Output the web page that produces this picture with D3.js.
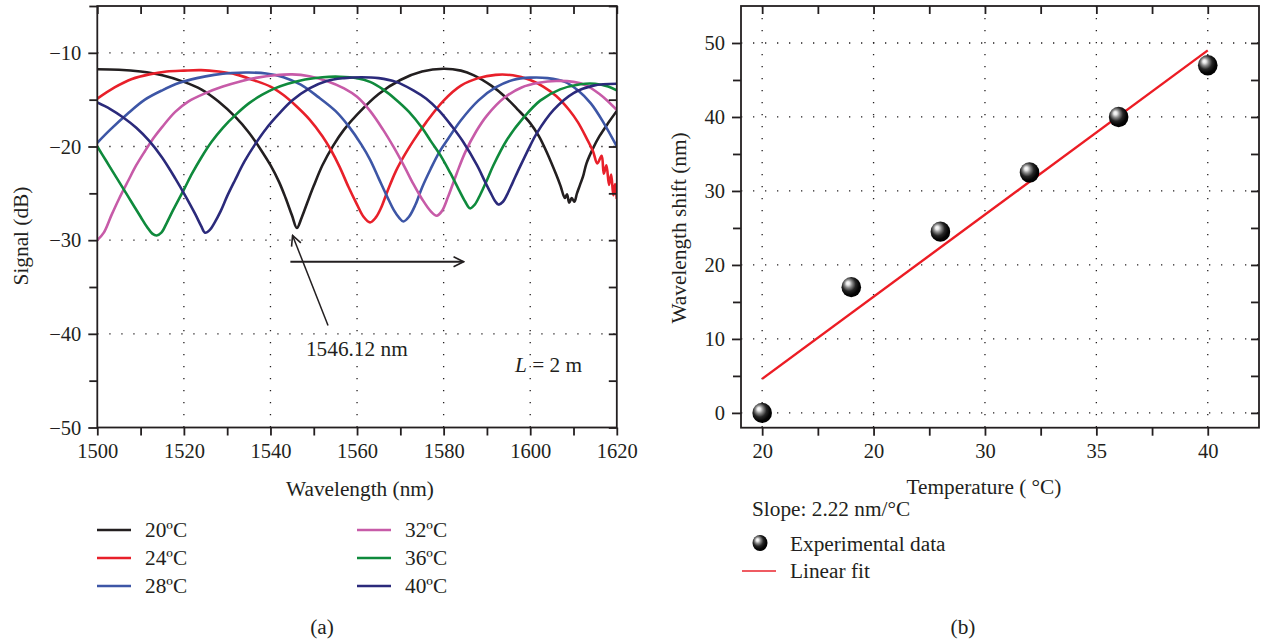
<!DOCTYPE html>
<html><head><meta charset="utf-8">
<script src="https://cdn.jsdelivr.net/npm/d3@7"></script>
<style>
body{margin:0;background:#fff}
svg text{font-family:"Liberation Serif","Times New Roman",serif;fill:#231f20}
</style>
</head><body>
<svg id="c" width="1262" height="642"></svg>
<script>
// ---------------- DATA: panel (a) ----------------
const temperatures = ["20ºC","24ºC","28ºC","32ºC","36ºC","40ºC"];
const seriesColors = ["#231f20","#e8202a","#3d56a6","#c75ba8","#0f8a3c","#2b2a7b"];
const spec20 = [[1500,-11.75],[1505,-11.8],[1510,-12.0],[1515,-12.4],[1520,-13.1],[1524,-13.9],[1528,-15.2],[1532,-16.9],[1535,-18.5],[1538,-20.5],[1540,-22.0],[1542,-23.8],[1543.5,-25.5],[1545,-27.4],[1546.1,-28.7],[1547.2,-27.6],[1548.5,-26.0],[1550,-24.2],[1552,-22.0],[1554.5,-19.9],[1557,-18.2],[1560,-16.6],[1565,-14.4],[1570,-12.9],[1575,-12.0],[1580,-11.7],[1584,-11.9],[1587,-12.4],[1591,-13.5],[1594,-14.6],[1597,-16.0],[1600,-17.5],[1602,-18.9],[1604,-20.8],[1606,-23.0],[1607,-24.2],[1608,-25.5],[1608.5,-25.1],[1609,-26.0],[1609.6,-25.5],[1610.2,-25.9],[1610.8,-25.0],[1611.5,-24.1],[1612.2,-23.2],[1613,-21.8],[1614.5,-20.2],[1616,-18.9],[1618,-17.5],[1620,-16.2]];
const spec24 = [[1500,-14.9],[1504,-13.7],[1508,-12.8],[1512,-12.3],[1516,-12.0],[1520,-11.9],[1524,-11.85],[1528,-12.0],[1532,-12.3],[1536,-12.9],[1540,-13.6],[1543,-14.5],[1546,-15.7],[1549,-17.1],[1552,-18.9],[1554,-20.4],[1556,-22.2],[1558,-24.3],[1560,-26.2],[1561.5,-27.5],[1563,-28.1],[1564.3,-27.6],[1565.5,-26.6],[1567,-24.8],[1569,-22.6],[1571,-20.9],[1573,-19.4],[1576,-17.4],[1580,-15.1],[1584,-13.5],[1588,-12.7],[1592,-12.35],[1596,-12.4],[1600,-12.9],[1603,-13.6],[1606,-14.6],[1609,-16.1],[1611,-17.4],[1613,-19.1],[1614.5,-20.5],[1615.5,-21.8],[1616.5,-21.0],[1617,-22.9],[1617.6,-22.0],[1618.2,-24.1],[1618.7,-23.0],[1619.2,-25.2],[1619.6,-24.0],[1620,-25.6]];
const spec28 = [[1500,-19.6],[1503,-18.2],[1507,-16.5],[1511,-15.0],[1515,-14.0],[1519,-13.2],[1523,-12.7],[1527,-12.35],[1531,-12.15],[1535,-12.1],[1539,-12.2],[1543,-12.6],[1547,-13.4],[1551,-14.7],[1555,-16.2],[1558,-17.8],[1561,-19.8],[1563,-21.4],[1565,-23.4],[1567,-25.4],[1568.5,-26.8],[1569.7,-27.6],[1570.7,-28.0],[1572,-27.5],[1573.5,-26.2],[1575,-24.4],[1577,-22.4],[1579,-20.6],[1581,-19.2],[1584,-17.2],[1588,-15.1],[1592,-13.7],[1596,-12.9],[1600,-12.65],[1604,-12.7],[1608,-13.1],[1611,-14.0],[1614,-15.4],[1617,-17.5],[1620,-20.0]];
const spec32 = [[1500,-30.0],[1501.5,-29.2],[1503.3,-27.3],[1505,-25.6],[1507.2,-23.6],[1509,-22.0],[1511,-20.5],[1513,-19.1],[1515,-17.9],[1518,-16.3],[1521,-15.2],[1525,-14.3],[1529,-13.6],[1533,-13.05],[1537,-12.65],[1541,-12.4],[1545,-12.3],[1549,-12.5],[1553,-13.0],[1557,-13.8],[1560,-14.7],[1563,-16.2],[1566,-18.2],[1568.5,-20.1],[1571,-22.2],[1573,-24.0],[1575,-25.6],[1577,-26.9],[1578.4,-27.4],[1579.6,-26.9],[1581,-25.4],[1583,-22.9],[1585,-20.6],[1587.5,-18.4],[1590,-16.7],[1594,-14.8],[1598,-13.7],[1602,-13.2],[1606,-13.0],[1610,-13.1],[1613,-13.5],[1616,-14.4],[1618,-15.2],[1620,-16.1]];
const spec36 = [[1500,-20.0],[1502,-21.5],[1504,-23.0],[1506,-24.5],[1508,-26.0],[1510,-27.5],[1511.5,-28.6],[1512.7,-29.3],[1513.7,-29.5],[1514.8,-29.2],[1516,-28.2],[1517.5,-26.8],[1520,-24.6],[1522,-22.8],[1524,-21.2],[1526.4,-19.5],[1529,-18.0],[1532,-16.6],[1535,-15.4],[1538,-14.5],[1541,-13.8],[1544,-13.3],[1548,-12.85],[1552,-12.6],[1556,-12.55],[1560,-12.7],[1563,-13.1],[1566,-13.9],[1569,-15.0],[1572,-16.3],[1575,-18.0],[1577,-19.4],[1579.2,-20.9],[1581.5,-22.8],[1583.5,-24.6],[1585,-25.9],[1586.1,-26.6],[1587.2,-26.2],[1588.5,-25.1],[1590,-23.6],[1591.5,-22.0],[1594.6,-19.3],[1598.5,-16.9],[1602.3,-15.1],[1606.9,-13.9],[1611.6,-13.35],[1615,-13.3],[1618,-13.6],[1620,-14.0]];
const spec40 = [[1500,-15.3],[1503,-16.0],[1506,-16.9],[1509,-18.0],[1512,-19.4],[1515,-21.2],[1518,-23.4],[1520.5,-25.4],[1522.6,-27.2],[1524,-28.5],[1524.9,-29.2],[1526,-28.9],[1527,-28.2],[1528.5,-26.9],[1530,-25.3],[1531.8,-23.6],[1534,-21.6],[1536.4,-19.8],[1539,-18.1],[1542,-16.5],[1545,-15.1],[1549,-13.8],[1553,-13.0],[1557,-12.7],[1561,-12.6],[1565,-12.7],[1569,-13.1],[1573,-14.0],[1576,-14.9],[1579,-16.2],[1582,-17.9],[1584.5,-19.5],[1587.7,-22.0],[1589.5,-23.7],[1590.8,-24.9],[1592,-25.9],[1592.7,-26.2],[1593.7,-25.9],[1594.6,-25.2],[1596,-23.8],[1597.7,-22.1],[1600,-19.9],[1601.5,-18.6],[1605.4,-16.1],[1610,-14.3],[1614.6,-13.5],[1620,-13.3]];
const spectra = [spec20,spec24,spec28,spec32,spec36,spec40];
const wlMajor = [1500,1520,1540,1560,1580,1600,1620];
const wlMajorLabels = ["1500","1520","1540","1560","1580","1600","1620"];
const wlMinor = [1510,1530,1550,1570,1590,1610];
const wlGrid = [1520,1540,1560,1580,1600];
const sigMajor = [-50,-40,-30,-20,-10];
const sigMajorLabels = ["\u221250","\u221240","\u221230","\u221220","\u221210"];
const sigMinor = [-45,-35,-25,-15,-5];
const sigGrid = [-40,-30,-20,-10];

// ---------------- DATA: panel (b) ----------------
const tempC = [20,24,28,32,36,40];
const shiftNm = [0,17,24.5,32.5,40,47];
const fitT = [20,40];
const fitShift = [4.6,49.0];
const tMajor = [20,25,30,35,40];
const tMajorLabels = ["20","20","30","35","40"];
const tMinor = [22.5,27.5,32.5,37.5];
const shMajor = [0,10,20,30,40,50];
const shMajorLabels = ["0","10","20","30","40","50"];
const shMinor = [5,15,25,35,45];

// ---------------- DRAW ----------------
const svg = d3.select("#c");
const defs = svg.append("defs");
const ink = "#231f20";
const FONT = '"Liberation Serif","Times New Roman",serif';
const FS = 21.3;

function styleAxis(g){
  g.attr("font-family",FONT).attr("font-size",20.5).attr("color",ink);
  g.select(".domain").remove();
  g.selectAll("line").attr("stroke",ink).attr("stroke-width",1.8);
}
function grid(g, xs, ys, x, y, x0, x1, y0, y1){
  g.selectAll(null).data(xs).join("line")
    .attr("x1",d=>x(d)).attr("x2",d=>x(d)).attr("y1",y0).attr("y2",y1);
  g.selectAll(null).data(ys).join("line")
    .attr("y1",d=>y(d)).attr("y2",d=>y(d)).attr("x1",x0).attr("x2",x1);
  g.selectAll("line").attr("stroke",ink).attr("stroke-width",1.3).attr("stroke-dasharray","1.3,10.7");
}
function frame(x, y, xMaj, xMin, yMaj, yMin, xLab, yLab){
  const [x0,x1] = x.range(), [y0,y1] = y.range();
  styleAxis(svg.append("g").attr("transform",`translate(${x0},0)`)
    .call(d3.axisLeft(y).tickValues(yMaj).tickSize(9).tickPadding(7).tickFormat((d,i)=>yLab[i])));
  styleAxis(svg.append("g").attr("transform",`translate(${x0},0)`)
    .call(d3.axisLeft(y).tickValues(yMin).tickSize(8).tickFormat("")));
  styleAxis(svg.append("g").attr("transform",`translate(0,${y0})`)
    .call(d3.axisBottom(x).tickValues(xMaj).tickSize(8).tickPadding(8).tickFormat((d,i)=>xLab[i])));
  styleAxis(svg.append("g").attr("transform",`translate(0,${y0})`)
    .call(d3.axisBottom(x).tickValues(xMin).tickSize(8).tickFormat("")));
  styleAxis(svg.append("g").attr("transform",`translate(${x1},0)`)
    .call(d3.axisLeft(y).tickValues(yMaj.concat(yMin)).tickSize(8).tickFormat("")));
  styleAxis(svg.append("g").attr("transform",`translate(0,${y1})`)
    .call(d3.axisBottom(x).tickValues(xMaj.concat(xMin)).tickSize(8).tickFormat("")));
  svg.append("rect").attr("x",x0).attr("y",y1).attr("width",x1-x0).attr("height",y0-y1)
    .attr("fill","none").attr("stroke",ink).attr("stroke-width",1.8);
}

// ===== panel (a) =====
const xL = d3.scaleLinear([1500,1620],[97.3,616.8]);
const yL = d3.scaleLinear([-50,-5],[427.5,6]);
defs.append("clipPath").attr("id","clipA").append("rect")
  .attr("x",97.3).attr("y",6).attr("width",519.5).attr("height",421.5);
grid(svg.append("g"), wlGrid, sigGrid, xL, yL, 97.3, 616.8, 6, 427.5);

const lineA = d3.line().x(d=>xL(d[0])).y(d=>yL(d[1])).curve(d3.curveCatmullRom.alpha(0.5));
svg.append("g").attr("clip-path","url(#clipA)")
  .selectAll("path").data(spectra).join("path")
  .attr("d",lineA).attr("fill","none")
  .attr("stroke",(d,i)=>seriesColors[i]).attr("stroke-width",2.6)
  .attr("stroke-linejoin","round");

frame(xL, yL, wlMajor, wlMinor, sigMajor, sigMinor, wlMajorLabels, sigMajorLabels);

// annotations (a)
defs.append("marker").attr("id","chev").attr("viewBox","0 0 12 12").attr("refX",11).attr("refY",6)
  .attr("markerWidth",12).attr("markerHeight",12).attr("markerUnits","userSpaceOnUse")
  .attr("orient","auto")
  .append("path").attr("d","M1,1 L11,6 L1,11").attr("fill","none").attr("stroke",ink).attr("stroke-width",1.6);
svg.append("line").attr("x1",xL(1553.3)).attr("y1",yL(-39.1)).attr("x2",xL(1545.1)).attr("y2",yL(-29.5))
  .attr("stroke",ink).attr("stroke-width",1.5).attr("marker-end","url(#chev)");
svg.append("line").attr("x1",xL(1544.6)).attr("y1",yL(-32.3)).attr("x2",xL(1584.6)).attr("y2",yL(-32.3))
  .attr("stroke",ink).attr("stroke-width",2).attr("marker-end","url(#chev)");
svg.append("text").attr("x",xL(1548.2)).attr("y",yL(-42.4)).attr("font-size",FS).text("1546.12 nm");
const lt = svg.append("text").attr("x",515).attr("y",372).attr("font-size",FS);
lt.append("tspan").attr("font-style","italic").text("L");
lt.append("tspan").text(" = 2 m");

svg.append("text").attr("transform","translate(28,236) rotate(-90)").attr("text-anchor","middle")
  .attr("font-size",FS).text("Signal (dB)");
svg.append("text").attr("x",360).attr("y",496).attr("text-anchor","middle").attr("font-size",FS).text("Wavelength (nm)");

// legend (a)
const legA = svg.append("g");
temperatures.forEach((t,i)=>{
  const col = Math.floor(i/3), row = i%3;
  const lx = 97 + col*260, ly = 530 + row*28;
  legA.append("line").attr("x1",lx).attr("x2",lx+34).attr("y1",ly).attr("y2",ly)
    .attr("stroke",seriesColors[i]).attr("stroke-width",2.4);
  legA.append("text").attr("x",lx+48).attr("y",ly+7).attr("font-size",FS).text(t);
});
svg.append("text").attr("x",322).attr("y",634).attr("text-anchor","middle").attr("font-size",FS).text("(a)");

// ===== panel (b) =====
const xR = d3.scaleLinear([19.05,42.3],[741,1259]);
const yR = d3.scaleLinear([-2,55],[427.7,6]);
grid(svg.append("g"), tMajor, shMajor, xR, yR, 741, 1259, 6, 427.7);

const grad = defs.append("radialGradient").attr("id","ball").attr("cx","42%").attr("cy","40%").attr("r","62%")
  .attr("fx","32%").attr("fy","30%");
[[0,"#ffffff"],[0.14,"#e8e8e8"],[0.32,"#8a8a8a"],[0.56,"#262626"],[0.8,"#050505"],[1,"#000"]]
  .forEach(s=>grad.append("stop").attr("offset",s[0]).attr("stop-color",s[1]));

frame(xR, yR, tMajor, tMinor, shMajor, shMinor, tMajorLabels, shMajorLabels);

svg.append("line").attr("x1",xR(fitT[0])).attr("y1",yR(fitShift[0]))
  .attr("x2",xR(fitT[1])).attr("y2",yR(fitShift[1]))
  .attr("stroke","#ec1c24").attr("stroke-width",2.4);
svg.append("g").selectAll("ellipse").data(tempC).join("ellipse")
  .attr("cx",d=>xR(d)).attr("cy",(d,i)=>yR(shiftNm[i])).attr("rx",9.8).attr("ry",10.2)
  .attr("fill","url(#ball)");

svg.append("text").attr("transform","translate(686,228) rotate(-90)").attr("text-anchor","middle")
  .attr("font-size",FS).text("Wavelength shift (nm)");
svg.append("text").attr("x",984).attr("y",494).attr("text-anchor","middle").attr("font-size",FS).text("Temperature ( °C)");
svg.append("text").attr("x",752).attr("y",516).attr("font-size",FS).text("Slope: 2.22 nm/°C");
svg.append("ellipse").attr("cx",760).attr("cy",543).attr("rx",7.5).attr("ry",8).attr("fill","url(#ball)");
svg.append("text").attr("x",790).attr("y",551).attr("font-size",FS).text("Experimental data");
svg.append("line").attr("x1",742).attr("x2",776).attr("y1",571).attr("y2",571)
  .attr("stroke","#ef5b62").attr("stroke-width",2);
svg.append("text").attr("x",790).attr("y",578).attr("font-size",FS).text("Linear fit");
svg.append("text").attr("x",963).attr("y",634).attr("text-anchor","middle").attr("font-size",FS).text("(b)");
</script>
</body></html>
